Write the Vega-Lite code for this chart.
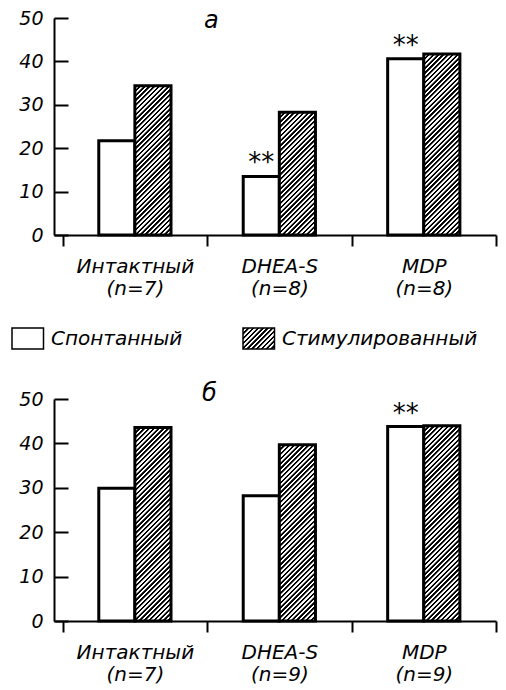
{
  "$schema": "https://vega.github.io/schema/vega-lite/v6.json",
  "background": "white",
  "padding": {"left": 11, "top": 9, "right": 5, "bottom": 5},
  "params": [
    {"name": "hatch", "value": [
      {"offset":0,"color":"#000"},{"offset":0.008,"color":"#000"},{"offset":0.01,"color":"#fff"},{"offset":0.018,"color":"#fff"},
      {"offset":0.02,"color":"#000"},{"offset":0.028,"color":"#000"},{"offset":0.03,"color":"#fff"},{"offset":0.038,"color":"#fff"},
      {"offset":0.04,"color":"#000"},{"offset":0.048,"color":"#000"},{"offset":0.05,"color":"#fff"},{"offset":0.058,"color":"#fff"},
      {"offset":0.06,"color":"#000"},{"offset":0.068,"color":"#000"},{"offset":0.07,"color":"#fff"},{"offset":0.078,"color":"#fff"},
      {"offset":0.08,"color":"#000"},{"offset":0.088,"color":"#000"},{"offset":0.09,"color":"#fff"},{"offset":0.098,"color":"#fff"},
      {"offset":0.1,"color":"#000"},{"offset":0.108,"color":"#000"},{"offset":0.11,"color":"#fff"},{"offset":0.118,"color":"#fff"},
      {"offset":0.12,"color":"#000"},{"offset":0.128,"color":"#000"},{"offset":0.13,"color":"#fff"},{"offset":0.138,"color":"#fff"},
      {"offset":0.14,"color":"#000"},{"offset":0.148,"color":"#000"},{"offset":0.15,"color":"#fff"},{"offset":0.158,"color":"#fff"},
      {"offset":0.16,"color":"#000"},{"offset":0.168,"color":"#000"},{"offset":0.17,"color":"#fff"},{"offset":0.178,"color":"#fff"},
      {"offset":0.18,"color":"#000"},{"offset":0.188,"color":"#000"},{"offset":0.19,"color":"#fff"},{"offset":0.198,"color":"#fff"},
      {"offset":0.2,"color":"#000"},{"offset":0.208,"color":"#000"},{"offset":0.21,"color":"#fff"},{"offset":0.218,"color":"#fff"},
      {"offset":0.22,"color":"#000"},{"offset":0.228,"color":"#000"},{"offset":0.23,"color":"#fff"},{"offset":0.238,"color":"#fff"},
      {"offset":0.24,"color":"#000"},{"offset":0.248,"color":"#000"},{"offset":0.25,"color":"#fff"},{"offset":0.258,"color":"#fff"},
      {"offset":0.26,"color":"#000"},{"offset":0.268,"color":"#000"},{"offset":0.27,"color":"#fff"},{"offset":0.278,"color":"#fff"},
      {"offset":0.28,"color":"#000"},{"offset":0.288,"color":"#000"},{"offset":0.29,"color":"#fff"},{"offset":0.298,"color":"#fff"},
      {"offset":0.3,"color":"#000"},{"offset":0.308,"color":"#000"},{"offset":0.31,"color":"#fff"},{"offset":0.318,"color":"#fff"},
      {"offset":0.32,"color":"#000"},{"offset":0.328,"color":"#000"},{"offset":0.33,"color":"#fff"},{"offset":0.338,"color":"#fff"},
      {"offset":0.34,"color":"#000"},{"offset":0.348,"color":"#000"},{"offset":0.35,"color":"#fff"},{"offset":0.358,"color":"#fff"},
      {"offset":0.36,"color":"#000"},{"offset":0.368,"color":"#000"},{"offset":0.37,"color":"#fff"},{"offset":0.378,"color":"#fff"},
      {"offset":0.38,"color":"#000"},{"offset":0.388,"color":"#000"},{"offset":0.39,"color":"#fff"},{"offset":0.398,"color":"#fff"},
      {"offset":0.4,"color":"#000"},{"offset":0.408,"color":"#000"},{"offset":0.41,"color":"#fff"},{"offset":0.418,"color":"#fff"},
      {"offset":0.42,"color":"#000"},{"offset":0.428,"color":"#000"},{"offset":0.43,"color":"#fff"},{"offset":0.438,"color":"#fff"},
      {"offset":0.44,"color":"#000"},{"offset":0.448,"color":"#000"},{"offset":0.45,"color":"#fff"},{"offset":0.458,"color":"#fff"},
      {"offset":0.46,"color":"#000"},{"offset":0.468,"color":"#000"},{"offset":0.47,"color":"#fff"},{"offset":0.478,"color":"#fff"},
      {"offset":0.48,"color":"#000"},{"offset":0.488,"color":"#000"},{"offset":0.49,"color":"#fff"},{"offset":0.498,"color":"#fff"},
      {"offset":0.5,"color":"#000"},{"offset":0.508,"color":"#000"},{"offset":0.51,"color":"#fff"},{"offset":0.518,"color":"#fff"},
      {"offset":0.52,"color":"#000"},{"offset":0.528,"color":"#000"},{"offset":0.53,"color":"#fff"},{"offset":0.538,"color":"#fff"},
      {"offset":0.54,"color":"#000"},{"offset":0.548,"color":"#000"},{"offset":0.55,"color":"#fff"},{"offset":0.558,"color":"#fff"},
      {"offset":0.56,"color":"#000"},{"offset":0.568,"color":"#000"},{"offset":0.57,"color":"#fff"},{"offset":0.578,"color":"#fff"},
      {"offset":0.58,"color":"#000"},{"offset":0.588,"color":"#000"},{"offset":0.59,"color":"#fff"},{"offset":0.598,"color":"#fff"},
      {"offset":0.6,"color":"#000"},{"offset":0.608,"color":"#000"},{"offset":0.61,"color":"#fff"},{"offset":0.618,"color":"#fff"},
      {"offset":0.62,"color":"#000"},{"offset":0.628,"color":"#000"},{"offset":0.63,"color":"#fff"},{"offset":0.638,"color":"#fff"},
      {"offset":0.64,"color":"#000"},{"offset":0.648,"color":"#000"},{"offset":0.65,"color":"#fff"},{"offset":0.658,"color":"#fff"},
      {"offset":0.66,"color":"#000"},{"offset":0.668,"color":"#000"},{"offset":0.67,"color":"#fff"},{"offset":0.678,"color":"#fff"},
      {"offset":0.68,"color":"#000"},{"offset":0.688,"color":"#000"},{"offset":0.69,"color":"#fff"},{"offset":0.698,"color":"#fff"},
      {"offset":0.7,"color":"#000"},{"offset":0.708,"color":"#000"},{"offset":0.71,"color":"#fff"},{"offset":0.718,"color":"#fff"},
      {"offset":0.72,"color":"#000"},{"offset":0.728,"color":"#000"},{"offset":0.73,"color":"#fff"},{"offset":0.738,"color":"#fff"},
      {"offset":0.74,"color":"#000"},{"offset":0.748,"color":"#000"},{"offset":0.75,"color":"#fff"},{"offset":0.758,"color":"#fff"},
      {"offset":0.76,"color":"#000"},{"offset":0.768,"color":"#000"},{"offset":0.77,"color":"#fff"},{"offset":0.778,"color":"#fff"},
      {"offset":0.78,"color":"#000"},{"offset":0.788,"color":"#000"},{"offset":0.79,"color":"#fff"},{"offset":0.798,"color":"#fff"},
      {"offset":0.8,"color":"#000"},{"offset":0.808,"color":"#000"},{"offset":0.81,"color":"#fff"},{"offset":0.818,"color":"#fff"},
      {"offset":0.82,"color":"#000"},{"offset":0.828,"color":"#000"},{"offset":0.83,"color":"#fff"},{"offset":0.838,"color":"#fff"},
      {"offset":0.84,"color":"#000"},{"offset":0.848,"color":"#000"},{"offset":0.85,"color":"#fff"},{"offset":0.858,"color":"#fff"},
      {"offset":0.86,"color":"#000"},{"offset":0.868,"color":"#000"},{"offset":0.87,"color":"#fff"},{"offset":0.878,"color":"#fff"},
      {"offset":0.88,"color":"#000"},{"offset":0.888,"color":"#000"},{"offset":0.89,"color":"#fff"},{"offset":0.898,"color":"#fff"},
      {"offset":0.9,"color":"#000"},{"offset":0.908,"color":"#000"},{"offset":0.91,"color":"#fff"},{"offset":0.918,"color":"#fff"},
      {"offset":0.92,"color":"#000"},{"offset":0.928,"color":"#000"},{"offset":0.93,"color":"#fff"},{"offset":0.938,"color":"#fff"},
      {"offset":0.94,"color":"#000"},{"offset":0.948,"color":"#000"},{"offset":0.95,"color":"#fff"},{"offset":0.958,"color":"#fff"},
      {"offset":0.96,"color":"#000"},{"offset":0.968,"color":"#000"},{"offset":0.97,"color":"#fff"},{"offset":0.978,"color":"#fff"},
      {"offset":0.98,"color":"#000"},{"offset":0.988,"color":"#000"},{"offset":0.99,"color":"#fff"},{"offset":0.998,"color":"#fff"}
    ]}
  ],
  "data": {"values": [
    {"panel": "а", "group": "Интактный (n=7)", "series": "Спонтанный", "value": 21.7, "sig": ""},
    {"panel": "а", "group": "Интактный (n=7)", "series": "Стимулированный", "value": 34.4, "sig": ""},
    {"panel": "а", "group": "DHEA-S (n=8)", "series": "Спонтанный", "value": 13.5, "sig": "**"},
    {"panel": "а", "group": "DHEA-S (n=8)", "series": "Стимулированный", "value": 28.3, "sig": ""},
    {"panel": "а", "group": "MDP (n=8)", "series": "Спонтанный", "value": 40.6, "sig": "**"},
    {"panel": "а", "group": "MDP (n=8)", "series": "Стимулированный", "value": 41.7, "sig": ""},
    {"panel": "б", "group": "Интактный (n=7)", "series": "Спонтанный", "value": 29.9, "sig": ""},
    {"panel": "б", "group": "Интактный (n=7)", "series": "Стимулированный", "value": 43.6, "sig": ""},
    {"panel": "б", "group": "DHEA-S (n=9)", "series": "Спонтанный", "value": 28.2, "sig": ""},
    {"panel": "б", "group": "DHEA-S (n=9)", "series": "Стимулированный", "value": 39.7, "sig": ""},
    {"panel": "б", "group": "MDP (n=9)", "series": "Спонтанный", "value": 43.8, "sig": "**"},
    {"panel": "б", "group": "MDP (n=9)", "series": "Стимулированный", "value": 44.0, "sig": ""}
  ]},
  "config": {
    "font": "DejaVu Sans",
    "view": {"stroke": null},
    "axis": {
      "domainColor": "black", "domainWidth": 2, "tickColor": "black", "tickWidth": 2,
      "labelColor": "black", "labelFont": "DejaVu Sans", "labelFontStyle": "italic",
      "labelFontSize": 19, "grid": false, "title": null
    },
    "title": {"font": "DejaVu Sans", "fontStyle": "italic", "fontWeight": "normal", "fontSize": 24, "color": "black"}
  },
  "spacing": 30,
  "resolve": {"scale": {"x": "independent", "y": "independent", "fill": "independent"}, "legend": {"fill": "independent"}},
  "vconcat": [
    {
      "width": 442, "height": 217,
      "transform": [{"filter": "datum.panel === 'а'"}],
      "title": {"text": "а", "anchor": "start", "frame": "group", "dx": 150, "offset": -24},
      "encoding": {
        "x": {"field": "group", "type": "nominal", "sort": null,
              "scale": {"paddingInner": 0, "paddingOuter": 0.03, "align": 1},
              "axis": {"labelExpr": "split(datum.label, ' ')", "labelAngle": 0, "tickBand": "extent", "tickExtra": false, "bandPosition": 1, "tickSize": 11, "labelPadding": 10, "labelLineHeight": 22, "labelFontSize": 20}},
        "xOffset": {"field": "series", "type": "nominal", "sort": ["Спонтанный", "Стимулированный"], "scale": {"paddingInner": 0, "paddingOuter": 1}},
        "y": {"field": "value", "type": "quantitative", "scale": {"domain": [0, 50], "nice": false},
              "axis": {"values": [0, 10, 20, 30, 40, 50], "tickSize": -14, "labelPadding": 25}}
      },
      "layer": [
        {
          "mark": {"type": "bar", "stroke": "black", "strokeWidth": 3},
          "encoding": {
            "fill": {"field": "series", "type": "nominal", "sort": ["Спонтанный", "Стимулированный"],
              "scale": {"domain": ["Спонтанный", "Стимулированный"],
                        "range": ["white", {"expr": "{'gradient':'linear','x1':0,'y1':0,'x2':5.3,'y2':3.5,'stops':hatch}"}]},
              "condition": {"test": "datum.series === 'Стимулированный'",
                "value": {"expr": "{'gradient':'linear','x1':0,'y1':0,'x2':240*36.1/(1303+pow(datum.value*4.34,2)),'y2':240*datum.value*4.34/(1303+pow(datum.value*4.34,2)),'stops':hatch}"}},
              "legend": {
                "title": null, "orient": "none", "legendX": -43, "legendY": 309, "direction": "horizontal",
                "symbolType": "M-1,-1H2V1H-1Z", "symbolSize": 441,
                "labelFont": "DejaVu Sans", "labelFontStyle": "italic", "labelFontSize": 20, "labelColor": "black",
                "labelOffset": 17, "columnPadding": 57, "labelLimit": 0,
                "encode": {"symbols": {
                  "stroke": {"value": "black"},
                  "strokeWidth": {"value": 2.5}
                }}
              }
            }
          }
        },
        {
          "mark": {"type": "text", "fontSize": 26, "baseline": "alphabetic", "dy": -5, "color": "black"},
          "encoding": {"text": {"field": "sig"}}
        }
      ]
    },
    {
      "width": 442, "height": 222,
      "transform": [{"filter": "datum.panel === 'б'"}],
      "title": {"text": "б", "anchor": "start", "frame": "group", "dx": 148, "offset": -16},
      "encoding": {
        "x": {"field": "group", "type": "nominal", "sort": null,
              "scale": {"paddingInner": 0, "paddingOuter": 0.03, "align": 1},
              "axis": {"labelExpr": "split(datum.label, ' ')", "labelAngle": 0, "tickBand": "extent", "tickExtra": false, "bandPosition": 1, "tickSize": 11, "labelPadding": 10, "labelLineHeight": 22, "labelFontSize": 20}},
        "xOffset": {"field": "series", "type": "nominal", "sort": ["Спонтанный", "Стимулированный"], "scale": {"paddingInner": 0, "paddingOuter": 1}},
        "y": {"field": "value", "type": "quantitative", "scale": {"domain": [0, 50], "nice": false},
              "axis": {"values": [0, 10, 20, 30, 40, 50], "tickSize": -14, "labelPadding": 25}}
      },
      "layer": [
        {
          "mark": {"type": "bar", "stroke": "black", "strokeWidth": 3},
          "encoding": {
            "fill": {"field": "series", "type": "nominal", "sort": ["Спонтанный", "Стимулированный"],
              "scale": {"domain": ["Спонтанный", "Стимулированный"], "range": ["white", "#777777"]},
              "condition": {"test": "datum.series === 'Стимулированный'",
                "value": {"expr": "{'gradient':'linear','x1':0,'y1':0,'x2':240*36.1/(1303+pow(datum.value*4.44,2)),'y2':240*datum.value*4.44/(1303+pow(datum.value*4.44,2)),'stops':hatch}"}},
              "legend": null
            }
          }
        },
        {
          "mark": {"type": "text", "fontSize": 26, "baseline": "alphabetic", "dy": -5, "color": "black"},
          "encoding": {"text": {"field": "sig"}}
        }
      ]
    }
  ]
}
